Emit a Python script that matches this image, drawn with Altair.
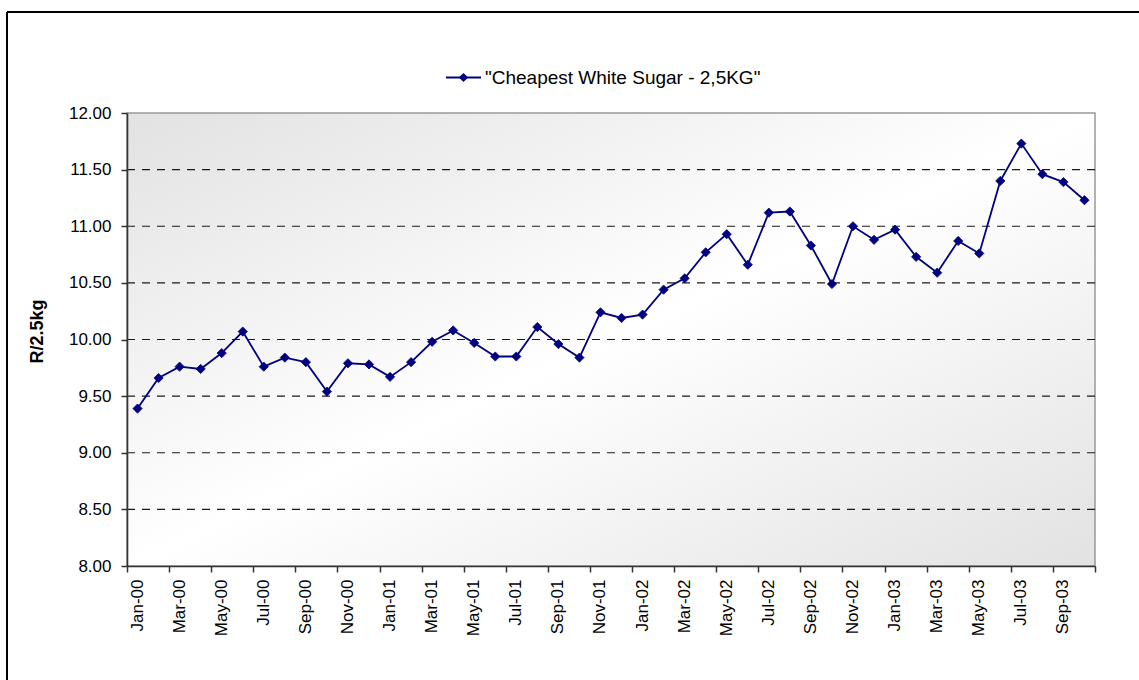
import altair as alt
import pandas as pd

# Monthly retail price of the cheapest 2.5 kg bag of white sugar (Rand)
MON = ["Jan", "Feb", "Mar", "Apr", "May", "Jun",
       "Jul", "Aug", "Sep", "Oct", "Nov", "Dec"]
YEARS = ["00", "01", "02", "03"]
MONTHS = [f"{m}-{y}" for y in YEARS for m in MON][:46]  # Jan-00 .. Oct-03

PRICES = [
    9.39, 9.66, 9.76, 9.74, 9.88, 10.07, 9.76, 9.84, 9.80, 9.54, 9.79, 9.78,
    9.67, 9.80, 9.98, 10.08, 9.97, 9.85, 9.85, 10.11, 9.96, 9.84, 10.24, 10.19,
    10.22, 10.44, 10.54, 10.77, 10.93, 10.66, 11.12, 11.13, 10.83, 10.49, 11.00, 10.88,
    10.97, 10.73, 10.59, 10.87, 10.76, 11.40, 11.73, 11.46, 11.39, 11.23,
]

SERIES_NAME = '"Cheapest White Sugar - 2,5KG"'
Y_TITLE = "R/2.5kg"
Y_TICKS = [8.0, 8.5, 9.0, 9.5, 10.0, 10.5, 11.0, 11.5, 12.0]
GRID_LEVELS = [8.5, 9.0, 9.5, 10.0, 10.5, 11.0, 11.5]

NAVY = "#000080"
FONT = "Liberation Sans"
W, H = 968, 453

df = pd.DataFrame({"month": MONTHS, "price": PRICES})
df["slot"] = range(len(df))
df["pos"] = df["slot"] + 0.5  # centre of each monthly category

x_scale = alt.Scale(domain=[0, len(MONTHS)], nice=False, zero=False)
y_scale = alt.Scale(domain=[8, 12], nice=False, zero=False)

# shared axes: ticks on category boundaries every second month
x_axis = alt.Axis(values=list(range(0, len(MONTHS) + 1, 2)),
                  labels=False, title=None, grid=False,
                  tickSize=6, tickWidth=1.5, tickColor="#333333",
                  domainColor="#333333", domainWidth=1.6, zindex=1)
y_axis = alt.Axis(values=Y_TICKS, format=".2f", grid=False,
                  tickSize=6, tickWidth=1.5, tickColor="#333333",
                  domainColor="#333333", domainWidth=1.6,
                  labelPadding=10, labelFont=FONT, labelFontSize=17,
                  labelColor="black",
                  title=Y_TITLE, titleFont=FONT, titleFontSize=18,
                  titleFontWeight="bold", titleColor="black",
                  titleAngle=270, titleX=-90, titleY=218,
                  titleAlign="center", titleBaseline="middle",
                  zindex=1)

# plot-area background: diagonal grey-white-grey gradient with a grey frame
background = alt.Chart(alt.Data(values=[{}])).mark_rect(
    fill=alt.Gradient(
        gradient="linear", x1=0, y1=0, x2=1, y2=1,
        stops=[alt.GradientStop(offset=0, color="#e2e2e2"),
               alt.GradientStop(offset=0.5, color="#ffffff"),
               alt.GradientStop(offset=1, color="#e2e2e2")],
    ),
    stroke="#999999", strokeWidth=1.5,
).encode(x=alt.value(0), x2=alt.value(W), y=alt.value(0), y2=alt.value(H))

grid = alt.Chart(pd.DataFrame({"level": GRID_LEVELS})).mark_rule(
    color="#1a1a1a", strokeWidth=1.1, strokeDash=[8, 7]
).encode(
    y=alt.Y("level:Q", scale=y_scale, axis=y_axis),
    x=alt.value(0), x2=alt.value(W),
)

line = alt.Chart(df).mark_line(
    color=NAVY, strokeWidth=1.8,
    point=alt.OverlayMarkDef(shape="diamond", size=85, filled=True,
                             color=NAVY, stroke=NAVY, strokeWidth=0.8),
).encode(
    x=alt.X("pos:Q", scale=x_scale, axis=x_axis),
    y=alt.Y("price:Q", scale=y_scale, axis=y_axis),
)

# month labels every second category, read bottom to top
month_labels = alt.Chart(df).transform_filter("datum.slot % 2 == 0").mark_text(
    angle=270, align="right", baseline="middle",
    font=FONT, fontSize=17, color="black",
).encode(
    x=alt.X("pos:Q", scale=x_scale, axis=x_axis),
    y=alt.value(H + 13.5),
    text="month:N",
)

# legend: line with diamond, then series name
one = alt.Data(values=[{}])
legend_line = alt.Chart(one).mark_rule(color=NAVY, strokeWidth=1.8).encode(
    x=alt.value(319), x2=alt.value(354), y=alt.value(-35.5))
legend_point = alt.Chart(one).mark_point(
    shape="diamond", size=85, filled=True, color=NAVY, opacity=1
).encode(x=alt.value(336.5), y=alt.value(-35.5))
legend_text = alt.Chart(one).mark_text(
    align="left", baseline="alphabetic", font=FONT, fontSize=19, color="black"
).encode(x=alt.value(358), y=alt.value(-28.7), text=alt.value(SERIES_NAME))

# outer chart frame (top and left edges)
frame_top = alt.Chart(one).mark_rule(color="black", strokeWidth=2).encode(
    x=alt.value(-120), x2=alt.value(1015), y=alt.value(-101))
frame_left = alt.Chart(one).mark_rule(color="black", strokeWidth=2).encode(
    x=alt.value(-120), y=alt.value(-101), y2=alt.value(575))

chart = alt.layer(
    background, grid, line, month_labels,
    legend_line, legend_point, legend_text, frame_top, frame_left,
).properties(
    width=W, height=H,
    autosize=alt.AutoSizeParams(type="none"),
    padding={"left": 127, "top": 113, "right": 44, "bottom": 114},
    background="white",
).configure_view(stroke=None)

chart.save("out.html", embed_options={"renderer": "svg", "actions": False})
